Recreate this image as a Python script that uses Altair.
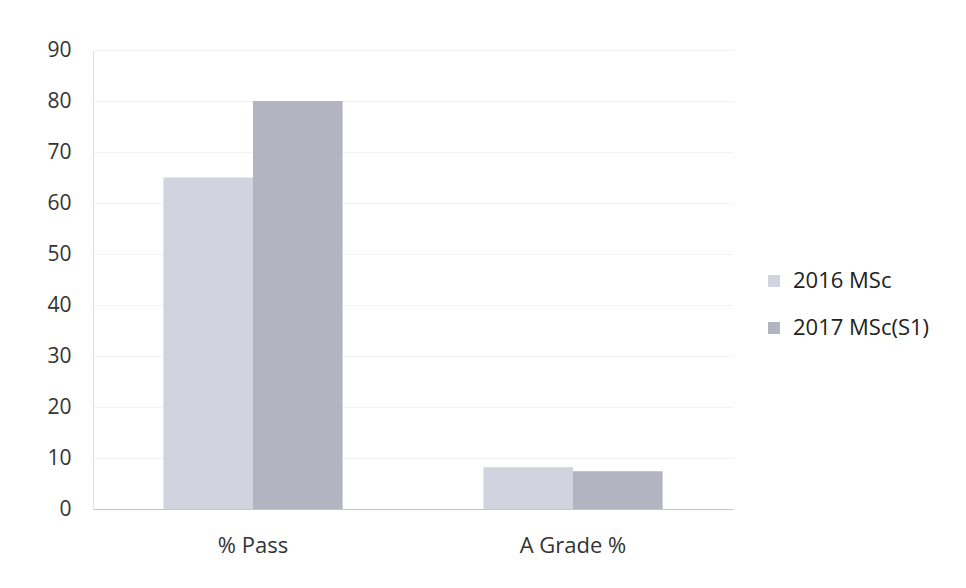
import altair as alt
import pandas as pd

categories = ["% Pass", "% Pass", "A Grade %", "A Grade %"]
series = ["2016 MSc", "2017 MSc(S1)", "2016 MSc", "2017 MSc(S1)"]
values = [65, 80, 8.2, 7.4]

df = pd.DataFrame({"cat": categories, "series": series, "value": values})

colors = ["#d3d3df", "#b3b3c2"]

chart = alt.Chart(df).mark_bar().encode(
    x=alt.X("cat:N", sort=["% Pass", "A Grade %"],
            scale=alt.Scale(paddingInner=0.44, paddingOuter=0.22),
            axis=alt.Axis(title=None, labelAngle=0, labelFontSize=22, labelColor="#333333",
                          labelFont="Open Sans", domainColor="#c4c4c4", ticks=False, labelPadding=26)),
    xOffset=alt.XOffset("series:N", sort=["2016 MSc", "2017 MSc(S1)"]),
    y=alt.Y("value:Q", scale=alt.Scale(domain=[0, 90]),
            axis=alt.Axis(title=None, values=list(range(0, 91, 10)), labelFontSize=21,
                          labelColor="#333333", labelFont="Open Sans", ticks=False,
                          labelPadding=22, domainColor="#e0e0e0", gridColor="#f2f2f2")),
    color=alt.Color("series:N", sort=["2016 MSc", "2017 MSc(S1)"],
                    scale=alt.Scale(domain=["2016 MSc", "2017 MSc(S1)"], range=colors),
                    legend=alt.Legend(title=None, orient="none", legendX=670, legendY=220,
                                      labelFontSize=22, labelFont="Open Sans", labelColor="#222222",
                                      symbolType="square", symbolSize=144, rowPadding=25,
                                      labelOffset=8, symbolStrokeWidth=0)),
).properties(
    width=640, height=459,
    autosize=alt.AutoSizeParams(type="none"),
    padding={"left": 85, "top": 42, "right": 225, "bottom": 71},
).configure_view(stroke=None)

chart.save("out.html", embed_options={"renderer": "svg", "actions": False})
